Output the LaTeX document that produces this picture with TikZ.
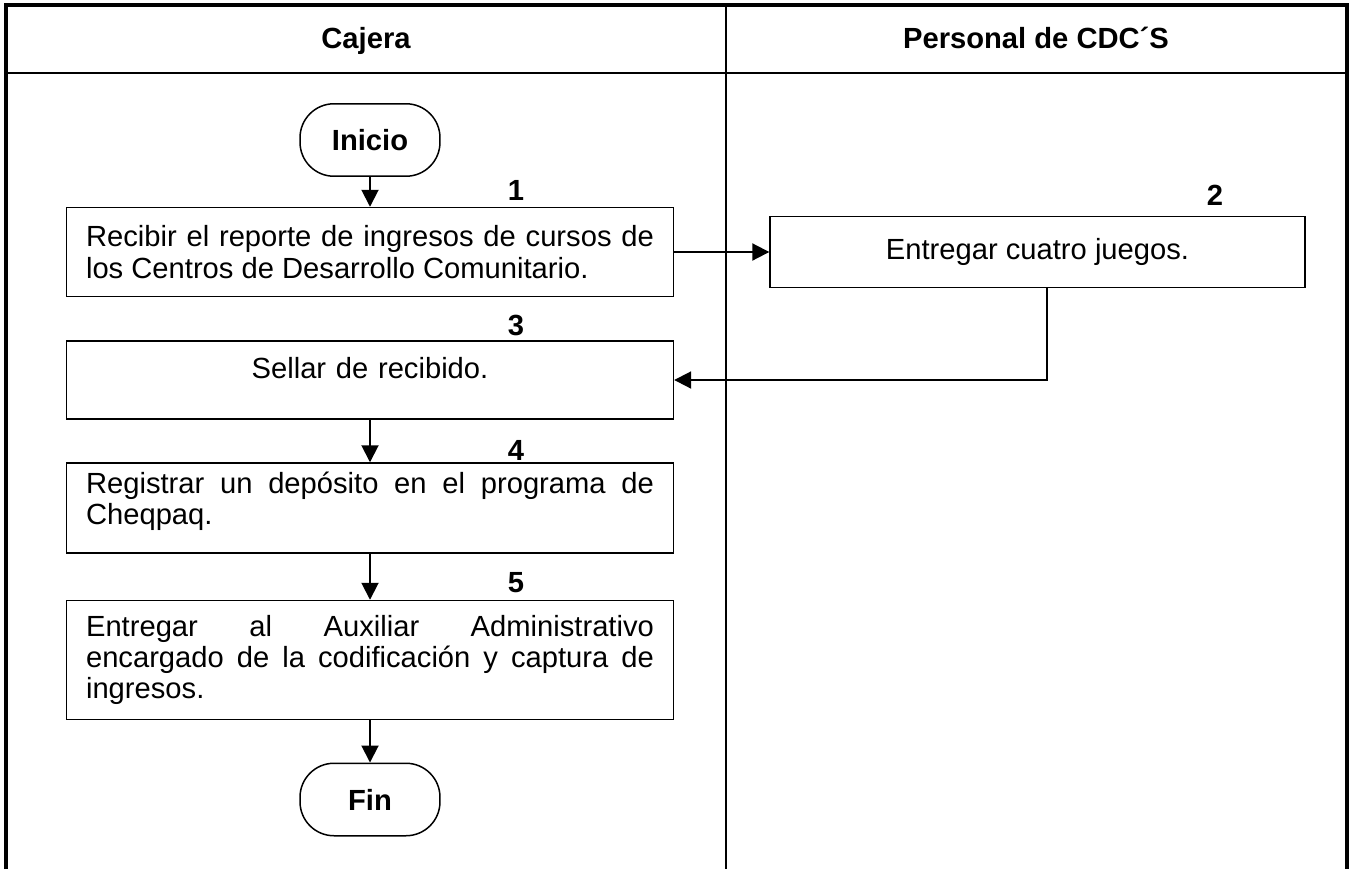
\documentclass[tikz,border=0pt]{standalone}
\usepackage{fontspec}
\setmainfont{Liberation Sans}
\usetikzlibrary{arrows.meta}
\begin{document}
\begin{tikzpicture}[x=0.02cm,y=-0.02cm,>={Triangle[length=0.34cm,width=0.34cm]},
        font=\fontsize{16.6}{17.8}\selectfont,
        paso/.style={draw,line width=0.85pt,text width=11.36cm,inner xsep=0.39cm,
            inner ysep=0pt,minimum height=#1,align=justify},
        term/.style={draw,line width=0.85pt,rounded corners=0.68cm,minimum width=2.8cm,
            minimum height=1.45cm,font=\fontsize{16.6}{17.8}\selectfont\bfseries},
        titulo/.style={anchor=base,font=\fontsize{16.6}{17.8}\selectfont\bfseries},
        flecha/.style={->,line width=1.1pt}]
        \useasboundingbox (0,0) rectangle (1349,869);
        % marco y carriles
        \draw[line width=1.9pt] (6,869) -- (6,5) -- (1347,5) -- (1347,869);
        \draw[line width=1.1pt] (6,72.7) -- (1347,72.7);
        \draw[line width=0.85pt] (726,5) -- (726,869);
        \node[titulo] (cajera) at (366,48.5) {Cajera};
        \node[titulo] (personal) at (1036,48.5) {Personal de CDC´S};
        % pasos
        \node[term] (inicio) at (370,140) {Inicio};
        \node[paso=1.78cm] (b1) at (370,252) {Recibir el reporte de ingresos de cursos de\linebreak los Centros de Desarrollo Comunitario.};
        \node[draw,line width=0.85pt,minimum width=10.7cm,minimum height=1.42cm] (b2) at (1037.5,252) {Entregar cuatro juegos.};
        \node[paso=1.56cm,align=center,text depth=0.5cm] (b3) at (370,380) {Sellar de recibido.};
        \node[paso=1.8cm] (b4) at (370,508) {Registrar un depósito en el programa de\linebreak Cheqpaq.\vrule width 0pt depth 0.38cm};
        \node[paso=2.38cm] (b5) at (370,660) {Entregar al Auxiliar Administrativo\linebreak encargado de la codificación y captura de\linebreak ingresos.};
        \node[term] (fin) at (370,799.5) {Fin};
        \foreach \n/\x/\y in {1/516/190,2/1215/195,3/516/325,4/516/450,5/516/583}
        \node[font=\fontsize{16.6}{17.8}\selectfont\bfseries] (num\n) at (\x,\y) {\n};
        % conectores
        \draw[flecha] (inicio) -- (b1);
        \draw[flecha] (b1) -- (b2);
        \draw[flecha] ([xshift=0.19cm]b2.south) |- (b3);
        \draw[flecha] (b3) -- (b4);
        \draw[flecha] (b4) -- (b5);
        \draw[flecha] (b5) -- (fin);
    \end{tikzpicture}
\end{document}
